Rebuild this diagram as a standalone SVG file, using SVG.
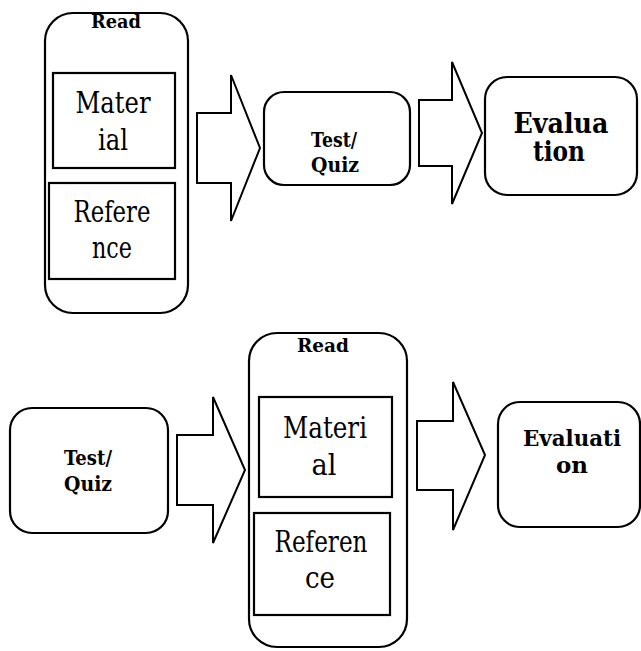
<svg xmlns="http://www.w3.org/2000/svg" width="641" height="651" viewBox="0 0 641 651">
<style>
.box{fill:#fff;stroke:#000;stroke-width:2.2}
.arr{fill:#fff;stroke:#000;stroke-width:2;stroke-linejoin:miter}
text{font-family:'DejaVu Serif','Liberation Serif',serif;fill:#000;text-anchor:middle}
.b{font-weight:bold}
</style>
<rect width="641" height="651" fill="#fff"/>
<g id="connectors">
<polygon class="arr" points="197,113 231,113 231,75 260,148 231,221 231,183 197,183"/>
<polygon class="arr" points="419,100 452,100 452,62 482,133 452,204 452,166 419,166"/>
<polygon class="arr" points="177,435 213,435 213,397 245,470 213,543 213,505 177,505"/>
<polygon class="arr" points="417,421 453,421 453,382 485,455 453,530 453,490 417,490"/>
</g>
<g id="read1">
<rect class="box" x="45" y="13" width="143" height="300" rx="28"/>
<text class="b" x="116" y="28" font-size="19" textLength="50" lengthAdjust="spacingAndGlyphs">Read</text>
<g id="material1">
<rect class="box" x="53" y="73" width="122" height="95"/>
<text x="113" y="113" font-size="30" textLength="75" lengthAdjust="spacingAndGlyphs">Mater</text>
<text x="113" y="150" font-size="30" textLength="30" lengthAdjust="spacingAndGlyphs">ial</text>
</g>
<g id="reference1">
<rect class="box" x="49" y="183" width="126" height="96"/>
<text x="112" y="222" font-size="30" textLength="77" lengthAdjust="spacingAndGlyphs">Refere</text>
<text x="112" y="258" font-size="30" textLength="40" lengthAdjust="spacingAndGlyphs">nce</text>
</g>
</g>
<g id="test1">
<rect class="box" x="264" y="92" width="146" height="93" rx="20"/>
<text class="b" x="334" y="147" font-size="21" textLength="46" lengthAdjust="spacingAndGlyphs">Test/</text>
<text class="b" x="335" y="172" font-size="21" textLength="48" lengthAdjust="spacingAndGlyphs">Quiz</text>
</g>
<g id="eval1">
<rect class="box" x="485" y="77" width="152" height="118" rx="22"/>
<text class="b" x="561" y="133" font-size="27" textLength="95" lengthAdjust="spacingAndGlyphs">Evalua</text>
<text class="b" x="559" y="161" font-size="27" textLength="52" lengthAdjust="spacingAndGlyphs">tion</text>
</g>
<g id="test2">
<rect class="box" x="10" y="408" width="158" height="125" rx="22"/>
<text class="b" x="88" y="465" font-size="21" textLength="48" lengthAdjust="spacingAndGlyphs">Test/</text>
<text class="b" x="88" y="491" font-size="21" textLength="48" lengthAdjust="spacingAndGlyphs">Quiz</text>
</g>
<g id="read2">
<rect class="box" x="249" y="333" width="158" height="314" rx="28"/>
<text class="b" x="323" y="352" font-size="19" textLength="52" lengthAdjust="spacingAndGlyphs">Read</text>
<g id="material2">
<rect class="box" x="259" y="397" width="133" height="100"/>
<text x="325" y="438" font-size="29" textLength="84" lengthAdjust="spacingAndGlyphs">Materi</text>
<text x="324" y="475" font-size="29" textLength="25" lengthAdjust="spacingAndGlyphs">al</text>
</g>
<g id="reference2">
<rect class="box" x="254" y="513" width="136" height="102"/>
<text x="321" y="552" font-size="29" textLength="93" lengthAdjust="spacingAndGlyphs">Referen</text>
<text x="320" y="588" font-size="29" textLength="30" lengthAdjust="spacingAndGlyphs">ce</text>
</g>
</g>
<g id="eval2">
<rect class="box" x="498" y="402" width="142" height="125" rx="22"/>
<text class="b" x="572" y="446" font-size="23" textLength="98" lengthAdjust="spacingAndGlyphs">Evaluati</text>
<text class="b" x="572" y="473" font-size="23" textLength="32" lengthAdjust="spacingAndGlyphs">on</text>
</g>
</svg>
